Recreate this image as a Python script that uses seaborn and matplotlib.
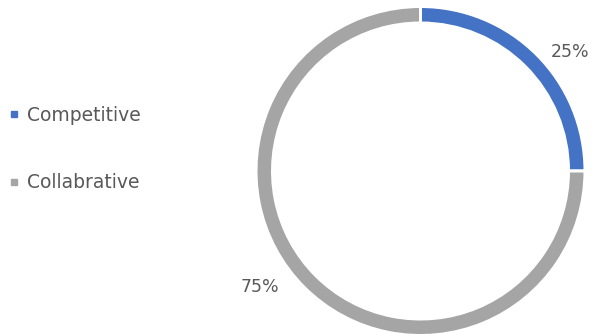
import matplotlib
matplotlib.use("Agg")
import matplotlib.pyplot as plt
from matplotlib.lines import Line2D
import seaborn as sns

# Share of team styles
categories = ["Competitive", "Collabrative"]
shares = [25, 75]
colors = ["#4472C4", "#A5A5A5"]

sns.set_theme(style="white")
plt.rcParams["font.family"] = ["DejaVu Sans"]
text_color = "#595959"

W, H = 594, 335
fig = plt.figure(figsize=(W / 100, H / 100), dpi=100)
fig.patch.set_facecolor("white")

# Donut: centre and radius in pixels
cx, cy, r = 420.5, 171.0, 163.0
gap_px = 3.0      # white separator between slices
ring_px = 13.5    # visible ring thickness
ax = fig.add_axes([(cx - r) / W, (H - cy - r) / H, 2 * r / W, 2 * r / H])
ax.pie(
    shares,
    colors=colors,
    startangle=90,
    counterclock=False,
    radius=(r + gap_px / 2) / r,
    wedgeprops=dict(width=(ring_px + gap_px) / r, edgecolor="white",
                    linewidth=gap_px * 72 / 100),
)
ax.set_xlim(-1, 1)
ax.set_ylim(-1, 1)
ax.set_aspect("equal")
ax.axis("off")

# Percentage labels outside the ring
label_pos = [(0.917, 0.728), (-0.985, -0.712)]
for val, (x, y) in zip(shares, label_pos):
    ax.text(x, y, f"{val}%", ha="center", va="center", fontsize=12.5,
            color=text_color, clip_on=False)

handles = [Line2D([], [], marker="s", linestyle="none", markersize=5,
                  markerfacecolor=c, markeredgecolor=c) for c in colors]
leg = fig.legend(handles, categories, loc="center left",
                 bbox_to_anchor=(-2 / W, (H - 149) / H), frameon=False,
                 fontsize=13.5, labelcolor=text_color, handlelength=0.5,
                 handletextpad=0.45, labelspacing=2.6, borderpad=0.1)

fig.savefig("out.png", dpi=100, facecolor="white")
